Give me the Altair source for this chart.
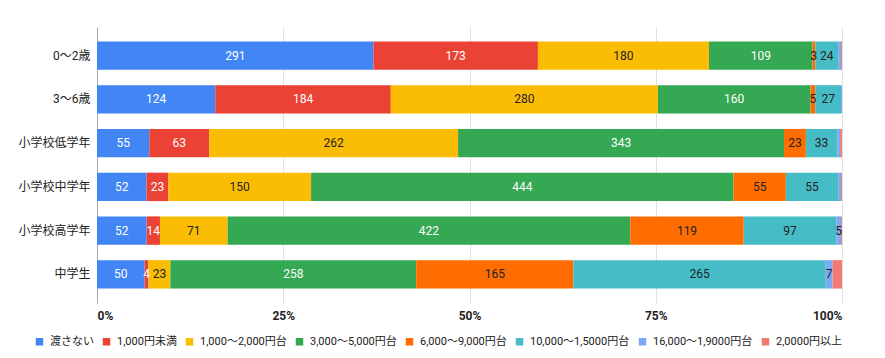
import altair as alt
import pandas as pd

categories = ["0～2歳", "3～6歳", "小学校低学年", "小学校中学年", "小学校高学年", "中学生"]
series = ["渡さない", "1,000円未満", "1,000～2,000円台", "3,000～5,000円台",
          "6,000～9,000円台", "10,000～1,5000円台", "16,000～1,9000円台", "2,0000円以上"]
colors = ["#4285F4", "#EA4335", "#FBBC04", "#34A853", "#FF6D01", "#46BDC6", "#7BAAF7", "#F07B72"]
label_colors = ["white", "white", "#222222", "white", "#222222", "#222222", "#222222", "#222222"]

values = {
    "渡さない":           [291, 124, 55, 52, 52, 50],
    "1,000円未満":        [173, 184, 63, 23, 14, 4],
    "1,000～2,000円台":   [180, 280, 262, 150, 71, 23],
    "3,000～5,000円台":   [109, 160, 343, 444, 422, 258],
    "6,000～9,000円台":   [3, 5, 23, 55, 119, 165],
    "10,000～1,5000円台": [24, 27, 33, 55, 97, 265],
    "16,000～1,9000円台": [3, 1, 3, 3, 5, 7],
    "2,0000円以上":       [1, 0, 2, 1, 1, 10],
}

rows = []
for si, s in enumerate(series):
    for ci, c in enumerate(categories):
        rows.append({"cat": c, "s": s, "order": si, "v": values[s][ci], "lc": label_colors[si]})
df = pd.DataFrame(rows)

FONT = "Roboto, Noto Sans CJK JP, sans-serif"

base = alt.Chart(df).transform_stack(
    stack="v", groupby=["cat"], as_=["v0", "v1"], offset="normalize",
    sort=[alt.SortField("order", order="ascending")]
)

yenc = alt.Y("cat:N", sort=categories, title=None,
             scale=alt.Scale(paddingInner=0.35, paddingOuter=0.33),
             axis=alt.Axis(labelFontSize=12, labelColor="#222222", labelFont=FONT,
                           ticks=False, domain=True, domainColor="#aaaaaa",
                           labelPadding=7))

bars = base.mark_bar().encode(
    y=yenc,
    x=alt.X("v0:Q", title=None, scale=alt.Scale(domain=[0, 1]),
            axis=alt.Axis(format="%", values=[0, 0.25, 0.5, 0.75, 1], labelFontSize=12,
                          labelColor="#222222", labelFont=FONT, labelFontWeight="bold",
                          ticks=False, domain=False, gridColor="#e0e0e0",
                          labelPadding=7)),
    x2="v1:Q",
    color=alt.Color("s:N", sort=series, title=None,
                    scale=alt.Scale(domain=series, range=colors),
                    legend=alt.Legend(orient="none", direction="horizontal",
                                      legendX=-63, legendY=309, columns=8,
                                      symbolType="square", symbolSize=56,
                                      symbolStrokeWidth=0, labelFontSize=11,
                                      labelFont=FONT, labelColor="#222222",
                                      columnPadding=7, labelOffset=5)),
)

texts = base.transform_calculate(
    mid="(datum.v0 + datum.v1) / 2"
).transform_filter(
    "datum.s != '2,0000円以上' && (datum.s != '16,000～1,9000円台' || datum.v >= 5)"
).mark_text(fontSize=12, font=FONT).encode(
    y=alt.Y("cat:N", sort=categories),
    x=alt.X("mid:Q"),
    text=alt.Text("v:Q"),
    color=alt.Color("lc:N", scale=None),
)

chart = alt.layer(bars, texts).properties(
    width=745, height=276,
    padding={"left": 89, "top": 19, "right": 30, "bottom": 50},
    autosize="none",
).configure_view(stroke=None)

chart.save("out.html", embed_options={"renderer": "svg", "actions": False})
